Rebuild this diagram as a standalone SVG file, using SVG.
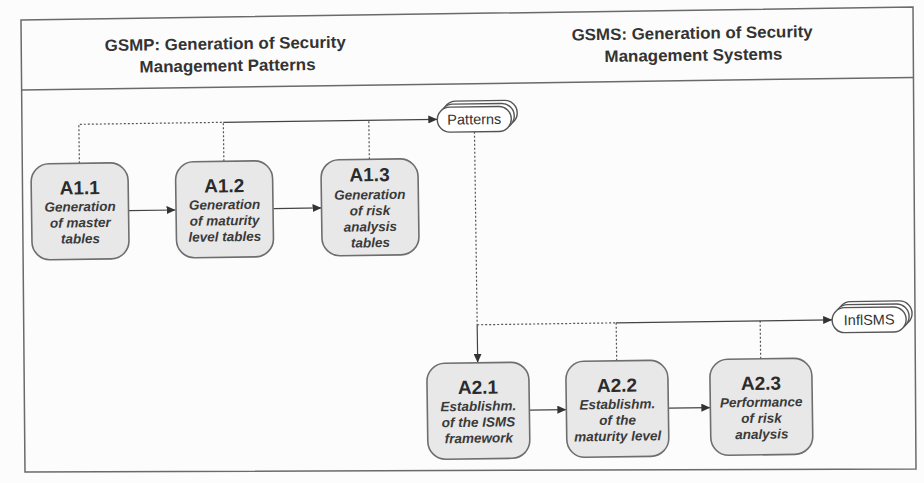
<svg xmlns="http://www.w3.org/2000/svg" width="924" height="483" viewBox="0 0 924 483">
  <defs>
    <marker id="arrow" viewBox="0 0 9 8" refX="9" refY="4" markerWidth="9" markerHeight="8" markerUnits="userSpaceOnUse" orient="auto">
      <path d="M0,0 L9,4 L0,8 Z" fill="#333"/>
    </marker>
    <style>
      .frame { fill: none; stroke: #6a6a6a; stroke-width: 1.5; }
      .head { font-family: "Liberation Sans", Arial, sans-serif; font-weight: bold; font-size: 16.5px; fill: #333; text-anchor: middle; }
      .box { fill: #e8e8e8; stroke: #6e6e6e; stroke-width: 1.6; }
      .tag { fill: #fff; stroke: #555; stroke-width: 1.4; }
      .id { font-family: "Liberation Sans", Arial, sans-serif; font-weight: bold; font-size: 19px; fill: #2b2b2b; text-anchor: middle; }
      .sub { font-family: "Liberation Sans", Arial, sans-serif; font-weight: bold; font-style: italic; font-size: 13.5px; fill: #3a3a3a; text-anchor: middle; }
      .lbl { font-family: "Liberation Sans", Arial, sans-serif; font-size: 14.5px; fill: #333; text-anchor: middle; }
      .dot { fill: none; stroke: #555; stroke-width: 1.2; stroke-dasharray: 2 2; }
      .line { fill: none; stroke: #444; stroke-width: 1.2; }
    </style>
  </defs>

  <rect width="924" height="483" fill="#fcfcfc"/>

  <!-- outer frame and header divider -->
  <g id="frame">
    <path class="frame" d="M21,20 L913,7 L916,469 L25,472 Z"/>
    <path class="frame" d="M21,90 L913,77.5"/>
  </g>

  <g transform="rotate(-0.8 462 241)">
    <!-- swimlane headers -->
    <g id="header-gsmp">
      <text class="head" x="228" y="46" textLength="241" lengthAdjust="spacingAndGlyphs">GSMP: Generation of Security</text>
      <text class="head" x="230" y="68" textLength="176" lengthAdjust="spacingAndGlyphs">Management Patterns</text>
    </g>
    <g id="header-gsms">
      <text class="head" x="695" y="42" textLength="241" lengthAdjust="spacingAndGlyphs">GSMS: Generation of Security</text>
      <text class="head" x="696" y="64" textLength="178" lengthAdjust="spacingAndGlyphs">Management Systems</text>
    </g>

    <!-- connectors -->
    <g id="connectors">
      <!-- GSMP outputs gathered into Patterns -->
      <path class="dot" d="M80.5,158 V119 H225"/>
      <path class="dot" d="M225,158 V119"/>
      <path class="dot" d="M370.5,158 V119"/>
      <path class="line" d="M225,119 H439" marker-end="url(#arrow)"/>
      <path class="line" d="M129,206 H176" marker-end="url(#arrow)"/>
      <path class="line" d="M274,206 H322" marker-end="url(#arrow)"/>
      <!-- Patterns feed GSMS -->
      <path class="dot" d="M476,132 V325"/>
      <path class="line" d="M476,325 V363" marker-end="url(#arrow)"/>
      <!-- GSMS outputs gathered into InflSMS -->
      <path class="dot" d="M476,325 H615"/>
      <path class="dot" d="M615,363 V325"/>
      <path class="dot" d="M759,363 V325"/>
      <path class="line" d="M615,325 H831" marker-end="url(#arrow)"/>
      <path class="line" d="M527,411 H564" marker-end="url(#arrow)"/>
      <path class="line" d="M666,411 H708" marker-end="url(#arrow)"/>
    </g>

    <!-- GSMP activities -->
    <g id="A1.1">
      <rect class="box" x="32" y="158" width="97" height="96" rx="18"/>
      <text class="id" x="80.5" y="189">A1.1</text>
      <text class="sub" x="80.5" y="206">Generation</text>
      <text class="sub" x="80.5" y="222">of master</text>
      <text class="sub" x="80.5" y="238">tables</text>
    </g>
    <g id="A1.2">
      <rect class="box" x="176.5" y="158" width="97" height="96" rx="18"/>
      <text class="id" x="225" y="189">A1.2</text>
      <text class="sub" x="225" y="206">Generation</text>
      <text class="sub" x="225" y="222">of maturity</text>
      <text class="sub" x="225" y="238">level tables</text>
    </g>
    <g id="A1.3">
      <rect class="box" x="322" y="158" width="97" height="96" rx="18"/>
      <text class="id" x="370.5" y="180">A1.3</text>
      <text class="sub" x="370.5" y="198">Generation</text>
      <text class="sub" x="370.5" y="214">of risk</text>
      <text class="sub" x="370.5" y="230">analysis</text>
      <text class="sub" x="370.5" y="246">tables</text>
    </g>

    <!-- Patterns store (stacked) -->
    <g id="patterns">
      <rect class="tag" x="445" y="101" width="74" height="25" rx="12.5"/>
      <rect class="tag" x="442" y="104" width="74" height="25" rx="12.5"/>
      <rect class="tag" x="439" y="107" width="74" height="25" rx="12.5"/>
      <text class="lbl" x="476" y="124.5">Patterns</text>
    </g>

    <!-- GSMS activities -->
    <g id="A2.1">
      <rect class="box" x="425" y="363" width="102" height="96" rx="18"/>
      <text class="id" x="476" y="394">A2.1</text>
      <text class="sub" x="476" y="411">Establishm.</text>
      <text class="sub" x="476" y="427">of the ISMS</text>
      <text class="sub" x="476" y="443">framework</text>
    </g>
    <g id="A2.2">
      <rect class="box" x="564" y="363" width="102" height="96" rx="18"/>
      <text class="id" x="615" y="394">A2.2</text>
      <text class="sub" x="615" y="411">Establishm.</text>
      <text class="sub" x="615" y="427">of the</text>
      <text class="sub" x="615" y="443">maturity level</text>
    </g>
    <g id="A2.3">
      <rect class="box" x="708" y="363" width="102" height="96" rx="18"/>
      <text class="id" x="759" y="394">A2.3</text>
      <text class="sub" x="759" y="411">Performance</text>
      <text class="sub" x="759" y="427">of risk</text>
      <text class="sub" x="759" y="443">analysis</text>
    </g>

    <!-- InflSMS store (stacked) -->
    <g id="inflsms">
      <rect class="tag" x="837" y="307" width="74" height="25" rx="12.5"/>
      <rect class="tag" x="834" y="310" width="74" height="25" rx="12.5"/>
      <rect class="tag" x="831" y="313" width="74" height="25" rx="12.5"/>
      <text class="lbl" x="868" y="330.5">InflSMS</text>
    </g>
  </g>
</svg>
